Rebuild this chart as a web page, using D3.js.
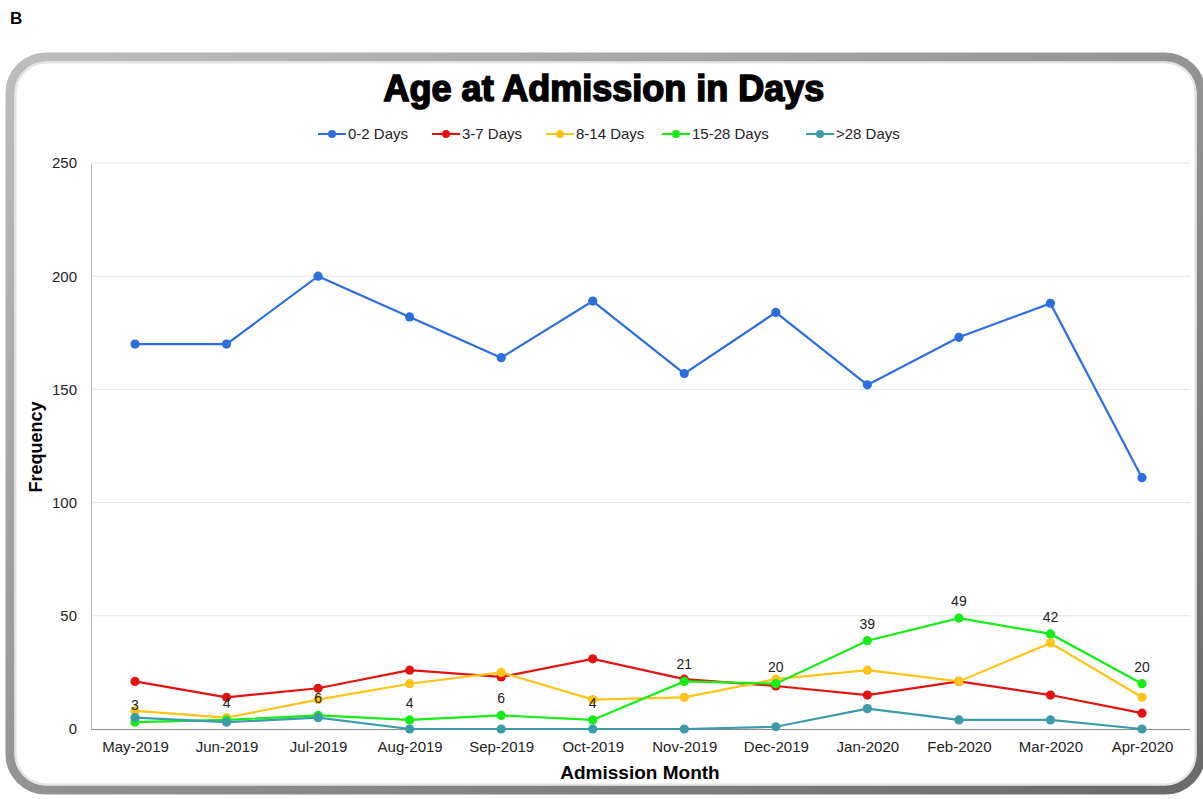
<!DOCTYPE html>
<html><head><meta charset="utf-8">
<script src="https://cdn.jsdelivr.net/npm/d3@7"></script>
<style>body{margin:0;background:#fff;}svg{display:block;font-family:"Liberation Sans",Arial,sans-serif;}</style>
</head><body>
<svg id="c" width="1203" height="799"></svg>
<script>
const months = ["May-2019","Jun-2019","Jul-2019","Aug-2019","Sep-2019","Oct-2019","Nov-2019","Dec-2019","Jan-2020","Feb-2020","Mar-2020","Apr-2020"];
const seriesNames = ["0-2 Days","3-7 Days","8-14 Days","15-28 Days",">28 Days"];
const days0_2   = [170,170,200,182,164,189,157,184,152,173,188,111];
const days3_7   = [21,14,18,26,23,31,22,19,15,21,15,7];
const days8_14  = [8,5,13,20,25,13,14,22,26,21,38,14];
const days15_28 = [3,4,6,4,6,4,21,20,39,49,42,20];
const days28p   = [5,3,5,0,0,0,0,1,9,4,4,0];
const yTicks = [0,50,100,150,200,250];
const colors = ["#2a6ee0","#e3120f","#ffc416","#15ee15","#3b9bab"];
const seriesValues = [days0_2,days3_7,days8_14,days15_28,days28p];

const svg = d3.select("#c");
const defs = svg.append("defs");
const g1 = defs.append("linearGradient").attr("id","fr").attr("x1","0").attr("y1","0").attr("x2","1").attr("y2","1");
g1.append("stop").attr("offset","0").attr("stop-color","#bdbdbd");
g1.append("stop").attr("offset","1").attr("stop-color","#6a6a6a");

svg.append("text").attr("x",10).attr("y",24).attr("font-size",17).attr("font-weight","bold").text("B");

// frame
svg.append("rect").attr("x",10).attr("y",57).attr("width",1191).attr("height",733)
  .attr("rx",36).attr("ry",36).attr("fill","#fff").attr("stroke","url(#fr)").attr("stroke-width",9);
svg.append("rect").attr("x",15.5).attr("y",62.5).attr("width",1180).attr("height",722)
  .attr("rx",31).attr("ry",31).attr("fill","none").attr("stroke","#e4e4e4").attr("stroke-width",2);

const x = d3.scalePoint().domain(months).range([135,1142]);
const y = d3.scaleLinear().domain([0,250]).range([729,163]);

// gridlines
svg.append("g").selectAll("line").data(yTicks.filter(d=>d>0)).join("line")
  .attr("x1",91).attr("x2",1190).attr("y1",d=>y(d)).attr("y2",d=>y(d))
  .attr("stroke","#e3e3e3").attr("stroke-width",1);

// y axis
const ya = svg.append("g").attr("transform","translate(91,0)").call(d3.axisLeft(y).tickValues(yTicks).tickSize(0).tickPadding(14));
ya.select(".domain").attr("stroke","#bdbdbd");
ya.selectAll("text").attr("font-size",15).attr("fill","#222").attr("font-family","Liberation Sans, Arial, sans-serif");

// x axis
const xa = svg.append("g").attr("transform","translate(0,729)").call(d3.axisBottom(x).tickSize(0).tickPadding(12));
xa.select(".domain").attr("d","M91,0.5H1190").attr("stroke","#888");
xa.selectAll("text").attr("font-size",15).attr("fill","#222").attr("font-family","Liberation Sans, Arial, sans-serif");

// axis titles
svg.append("text").attr("x",640).attr("y",779).attr("text-anchor","middle").attr("font-size",19).attr("font-weight","bold").text("Admission Month");
svg.append("text").attr("transform","translate(42,447) rotate(-90)").attr("text-anchor","middle").attr("font-size",18).attr("font-weight","bold").text("Frequency");

// title
svg.append("text").attr("x",604).attr("y",101).attr("text-anchor","middle").attr("font-size",36).attr("font-weight","bold")
  .attr("stroke","#000").attr("stroke-width",1.6).text("Age at Admission in Days");

// lines
const line = d3.line().x((d,i)=>x(months[i])).y(d=>y(d));
seriesValues.forEach((vals,si)=>{
  const g = svg.append("g");
  g.append("path").datum(vals).attr("d",line).attr("fill","none").attr("stroke",colors[si]).attr("stroke-width",2.2);
  g.selectAll("circle").data(vals).join("circle").attr("cx",(d,i)=>x(months[i])).attr("cy",d=>y(d)).attr("r",4.6).attr("fill",colors[si]);
});
// data labels for 15-28 Days
svg.append("g").selectAll("text").data(days15_28).join("text")
  .attr("x",(d,i)=>x(months[i])).attr("y",d=>y(d)-12).attr("text-anchor","middle").attr("font-size",14).attr("fill","#222")
  .text(d=>d);

// legend
const legX = [318,432,546,662,806];
const lg = svg.append("g");
seriesNames.forEach((n,i)=>{
  const gx = legX[i];
  lg.append("line").attr("x1",gx).attr("x2",gx+28).attr("y1",134).attr("y2",134).attr("stroke",colors[i]).attr("stroke-width",2);
  lg.append("circle").attr("cx",gx+14).attr("cy",134).attr("r",4).attr("fill",colors[i]);
  lg.append("text").attr("x",gx+30).attr("y",139).attr("font-size",15).attr("fill","#222").text(n);
});
</script>
</body></html>
